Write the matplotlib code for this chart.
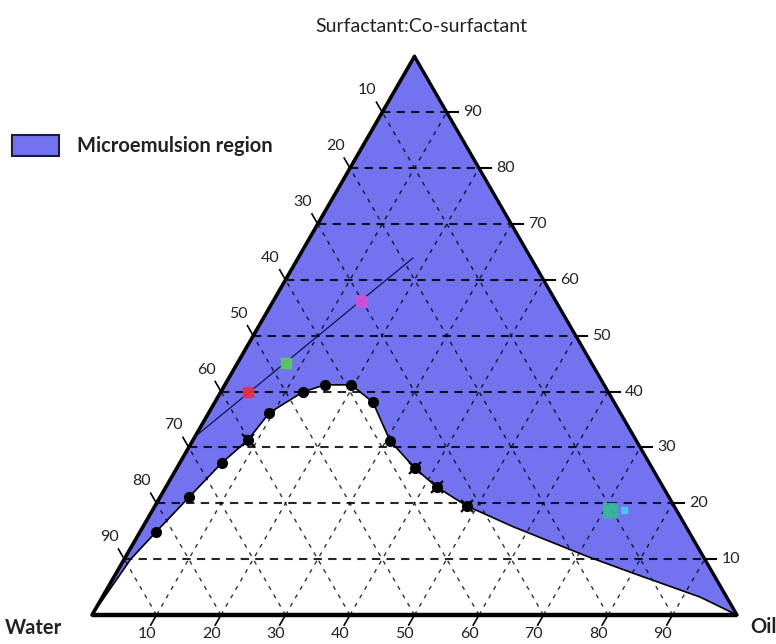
import numpy as np
import matplotlib
matplotlib.use("Agg")
import matplotlib.pyplot as plt
from matplotlib.patches import Polygon, Rectangle

# ---------------- data (percent) : oil, surfactant:co-surfactant (water = rest)
boundary_oil = [2.5, 4.5, 6.5, 8.5, 9.4, 12.7, 15.5, 19.6, 24.5, 30.6, 36.9, 42.0, 48.4]
boundary_smix = [14.9, 21.1, 27.2, 31.3, 36.2, 39.9, 41.2, 41.2, 38.1, 31.2, 26.3, 22.9, 19.5]
star_points = [3, 10, 11, 12]
head_oil = [0.0, 1.0]
head_smix = [0.0, 10.0]
tail_oil = [57.4, 71.5, 80.1, 92.7, 100.0]
tail_smix = [15.8, 10.5, 7.5, 3.2, 0.0]

dilution_oil = [0.0, 17.8]
dilution_smix = [31.9, 63.9]
form_oil = [4.2, 7.5, 13.6]
form_smix = [39.9, 45.1, 56.2]
form_colors = ["#e5304a", "#5ccc5c", "#d64fd6"]
opt_oil = [70.9, 73.1]
opt_smix = [18.8, 18.8]
opt_colors = ["#2fbf8c", "#3fd3ec"]

tick_values = [10, 20, 30, 40, 50, 60, 70, 80, 90]

title = "Surfactant:Co-surfactant"
left_label = "Water"
right_label = "Oil"
legend_label = "Microemulsion region"

BLUE = "#7373f0"
H = np.sqrt(3) / 2


def tern(oil, smix):
    o = np.asarray(oil, dtype=float) / 100.0
    s = np.asarray(smix, dtype=float) / 100.0
    return o + s / 2.0, s * H


# pixel-based layout helper (origin: water vertex at pixel 92,615 ; 645 px per unit)
def px(x, y):
    return (x - 92) / 645.0, (615 - y) / 645.0


fig = plt.figure(figsize=(7.76, 6.44), dpi=100)
ax = fig.add_axes([0, 0, 1, 1])
ax.set_xlim(-92 / 645.0, (776 - 92) / 645.0)
ax.set_ylim((615 - 644) / 645.0, 615 / 645.0)
ax.axis("off")

# triangle fill
tri_x, tri_y = tern([0, 100, 0], [0, 0, 100])
ax.add_patch(Polygon(np.column_stack([tri_x, tri_y]), closed=True,
                     facecolor=BLUE, edgecolor="none", zorder=1))

# white (non-microemulsion) region
b_oil = head_oil + boundary_oil + tail_oil
b_smix = head_smix + boundary_smix + tail_smix
bx, by = tern(b_oil, b_smix)
ax.add_patch(Polygon(np.column_stack([bx, by]), closed=True,
                     facecolor="white", edgecolor="none", zorder=2))

# grid
for t in tick_values:
    f = t / 100.0
    # constant surfactant (horizontal)
    x, y = tern([0, 100 * (1 - f)], [t, t])
    ax.plot(x, y, color="black", lw=1.5, alpha=0.85, dashes=(4, 3), zorder=3)
    # constant oil
    x, y = tern([t, t], [0, 100 - t])
    ax.plot(x, y, color="black", lw=1.0, alpha=0.8, dashes=(3, 4), zorder=3)
    # constant water
    x, y = tern([100 - t, 0], [0, 100 - t])
    ax.plot(x, y, color="black", lw=1.0, alpha=0.8, dashes=(3, 4), zorder=3)

# boundary line
ax.plot(bx[1:], by[1:], color="black", lw=1.2, zorder=4)
ax.plot(bx[:2], by[:2], color="black", lw=1.2, zorder=4)

# triangle edges
ax.plot([tri_x[0], tri_x[2]], [tri_y[0], tri_y[2]], color="black", lw=2.6, zorder=5,
        solid_capstyle="round")
ax.plot([tri_x[2], tri_x[1]], [tri_y[2], tri_y[1]], color="black", lw=2.4, zorder=5,
        solid_capstyle="round")
ax.plot([tri_x[0], tri_x[1]], [tri_y[0], tri_y[1]], color="black", lw=3.2, zorder=5,
        solid_capstyle="butt")

# ticks and labels
L = 0.018
tick_font = dict(family=["Lato", "DejaVu Sans"], fontsize=11.5, color="#222222")
for t in tick_values:
    f = t / 100.0
    # right axis: surfactant
    x0, y0 = tern(100 - t, t)
    ax.plot([x0, x0 + L], [y0, y0], color="black", lw=1.5, zorder=5)
    ax.text(x0 + 0.026, y0, str(t), ha="left", va="center", **tick_font)
    # left axis: water
    x0, y0 = tern(0, 100 - t)
    ax.plot([x0, x0 - 0.5 * L], [y0, y0 + H * L], color="black", lw=1.2, zorder=5)
    ax.text(x0 - 0.023, y0 + 0.034, str(t), ha="center", va="center", **tick_font)
    # bottom axis: oil
    x0, y0 = tern(t, 0)
    ax.plot([x0, x0 - 0.5 * L], [y0, y0 - H * L], color="black", lw=1.2, zorder=5)
    ax.text(x0 - 0.015, y0 - 0.0295, str(t), ha="center", va="center", **tick_font)

# composition points
px_b, py_b = tern(boundary_oil, boundary_smix)
ax.plot(px_b, py_b, "o", color="black", ms=7, zorder=6, lw=0)
sx, sy = tern([boundary_oil[i] for i in star_points], [boundary_smix[i] for i in star_points])
ax.plot(sx, sy, "x", color="black", ms=8, mew=1.6, zorder=6, lw=0)

# dilution line and formulations
dx, dy = tern(dilution_oil, dilution_smix)
ax.plot(dx, dy, color="#101050", lw=0.9, zorder=6)
fx, fy = tern(form_oil, form_smix)
for xx, yy, c in zip(fx, fy, form_colors):
    ax.plot(xx, yy, "s", color=c, ms=6.5, mec=c, alpha=0.9, zorder=7)
ox, oy = tern(opt_oil, opt_smix)
ax.plot(ox[0], oy[0], "s", color=opt_colors[0], ms=10, alpha=0.85, zorder=7)
ax.plot(ox[1], oy[1], "s", color=opt_colors[1], ms=5, alpha=0.85, zorder=7)

# titles
tx, ty = px(421, 27)
ax.text(tx, ty, title, ha="center", va="center", fontsize=14,
        family=["Lato", "DejaVu Sans"], color="#222222")
wx, wy = px(5, 628)
ax.text(wx, wy, left_label, ha="left", va="center", fontsize=14.5, fontweight="bold",
        family=["Lato", "DejaVu Sans"], color="#222222")
oxl, oyl = px(750, 627)
ax.text(oxl, oyl, right_label, ha="left", va="center", fontsize=14.5, fontweight="bold",
        family=["Lato", "DejaVu Sans"], color="#222222")

# legend
lx0, ly0 = px(12, 156)
lx1, ly1 = px(59, 135)
ax.add_patch(Rectangle((lx0, ly0), lx1 - lx0, ly1 - ly0, facecolor=BLUE,
                       edgecolor="#1a1a3a", lw=1.5, zorder=8))
gx, gy = px(77, 146)
ax.text(gx, gy, legend_label, ha="left", va="center", fontsize=14.5, fontweight="bold",
        family=["Lato", "DejaVu Sans"], color="#222222")

fig.savefig("out.png", dpi=100)
